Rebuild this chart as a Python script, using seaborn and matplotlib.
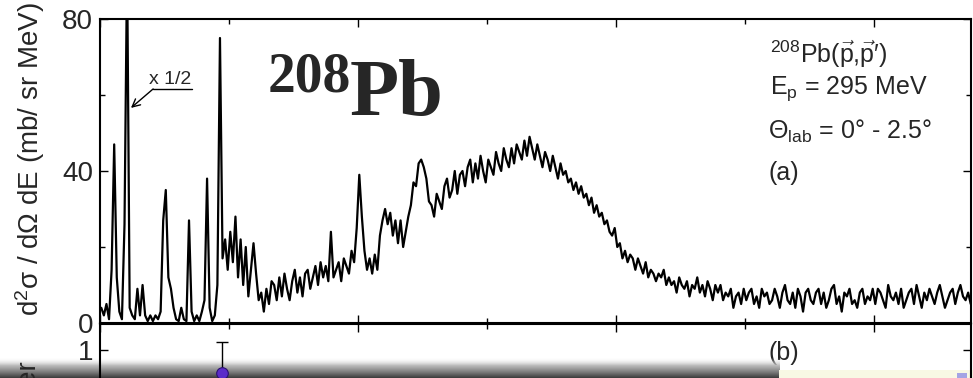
import numpy as np
import matplotlib
matplotlib.use("Agg")
import matplotlib.pyplot as plt
from matplotlib.ticker import MultipleLocator, FixedLocator
from matplotlib.patches import Rectangle
import seaborn as sns

# Excitation-energy binning of the (p,p') spectrum, MeV
E_START = 5.0
BIN_WIDTH = 0.05

# d2sigma/dOmega dE (mb/sr MeV), one list per MeV of excitation energy
spec_05 = [4, 2, 5, 1, 14, 47, 12, 3, 1, 26, 95, 4, 2, 1, 9, 2, 10, 2, 0.5, 2]
spec_06 = [0.5, 2, 1, 3, 27, 35, 12, 9, 4, 1, 0.5, 4, 1, 0.5, 27, 3, 0.5, 2, 0.5, 3]
spec_07 = [6, 38, 4, 0.5, 2, 10, 75, 17, 22, 14, 24, 16, 28, 12, 22, 10, 20, 7, 14, 21]
spec_08 = [13, 6, 8, 3, 9, 5, 11, 10, 6, 12, 7, 13, 9, 6, 11, 14, 8, 12, 7, 13]
spec_09 = [14, 9, 12, 15, 10, 16, 12, 15, 11, 24, 12, 14, 16, 11, 17, 15, 13, 19, 16, 25]
spec_10 = [39, 28, 19, 14, 17, 13, 18, 14, 23, 27, 30, 26, 29, 23, 27, 21, 27, 20, 24, 28]
spec_11 = [31, 37, 36, 42, 43, 41, 38, 32, 31, 28, 34, 32, 30, 36, 38, 33, 35, 40, 34, 39]
spec_12 = [40, 36, 41, 43, 37, 42, 38, 44, 40, 37, 43, 41, 39, 45, 42, 40, 46, 43, 41, 46]
spec_13 = [42, 47, 45, 43, 48, 44, 49, 46, 43, 47, 44, 41, 45, 43, 40, 44, 41, 38, 42, 39]
spec_14 = [40, 37, 38, 35, 37, 34, 36, 33, 34, 31, 33, 29, 31, 28, 29, 26, 27, 24, 23, 25]
spec_15 = [20, 21, 17, 19, 16, 18, 17, 14, 17, 15, 13, 16, 12, 14, 13, 11, 13, 12, 14, 10]
spec_16 = [12, 10, 11, 8, 12, 10, 9, 11, 7, 10, 9, 12, 8, 10, 7, 11, 9, 6, 10, 8]
spec_17 = [10, 6, 8, 7, 9, 4, 7, 8, 5, 9, 6, 8, 9, 5, 7, 4, 9, 7, 8, 5]
spec_18 = [6, 9, 7, 4, 8, 10, 6, 5, 8, 4, 9, 7, 3, 8, 9, 6, 5, 8, 9, 5]
spec_19 = [8, 4, 6, 9, 10, 5, 7, 3, 8, 7, 9, 5, 6, 4, 8, 9, 5, 7, 6, 9]
spec_20 = [5, 9, 8, 6, 4, 10, 7, 6, 8, 5, 9, 4, 6, 8, 9, 5, 10, 7, 4, 8]
spec_21 = [6, 9, 7, 5, 8, 10, 7, 4, 6, 8, 9, 5, 8, 10, 7, 6, 8, 5]

# Panel (b): total spin transfer
sf_energy = [7.37]
sf_value = [0.82]
sf_error = [0.24]

sns.set_theme(style="ticks")
plt.rcParams["font.family"] = ["Liberation Sans", "DejaVu Sans"]
plt.rcParams["mathtext.fontset"] = "custom"
plt.rcParams["mathtext.rm"] = "Liberation Sans"
plt.rcParams["mathtext.it"] = "Liberation Sans:italic"
plt.rcParams["mathtext.bf"] = "Liberation Sans:bold"

W, H = 973, 378
fig = plt.figure(figsize=(W / 100, H / 100), dpi=100)
fig.patch.set_facecolor("white")


def fx(px):
    return px / W


def fy(py):
    return 1 - py / H


ax = fig.add_axes([fx(100), fy(323), (971 - 100) / W, (323 - 19) / H])
axb = fig.add_axes([fx(100), fy(479), (971 - 100) / W, (479 - 324) / H],
                   zorder=12)
axb.patch.set_alpha(0)

counts = np.concatenate([spec_05, spec_06, spec_07, spec_08, spec_09, spec_10,
                         spec_11, spec_12, spec_13, spec_14, spec_15, spec_16,
                         spec_17, spec_18, spec_19, spec_20, spec_21])
energy = E_START + BIN_WIDTH * (np.arange(len(counts)) + 0.5)

sns.lineplot(x=energy, y=counts, ax=ax, color="black", lw=1.6,
             estimator=None, sort=False)

for a in (ax, axb):
    a.set_xlim(5.0, 21.88)
    a.xaxis.set_major_locator(MultipleLocator(5))
    a.xaxis.set_minor_locator(MultipleLocator(2.5))
    a.tick_params(which="both", direction="in", top=True, right=True,
                  bottom=True, left=True, width=1.0, color="black",
                  labelsize=20, pad=5, labelbottom=False)
    a.tick_params(which="major", length=6)
    a.tick_params(which="minor", length=3.8)
    for s in a.spines.values():
        s.set_linewidth(1.5)
        s.set_color("black")
    a.set_xlabel("")
    a.set_ylabel("")

ax.set_ylim(0, 80)
ax.set_yticks([0, 40, 80])
ax.yaxis.set_minor_locator(MultipleLocator(20))

# off-scale peak marker
ax.text(6.35, 62.9, "x 1/2", ha="center", va="baseline", fontsize=14)
ax.plot([6.03, 6.78], [61.6, 61.6], color="black", lw=1.0)
ax.annotate("", xy=(5.60, 56.6), xytext=(6.03, 61.6),
            arrowprops=dict(arrowstyle="->", lw=1.0, color="black",
                            shrinkA=0, shrinkB=0, mutation_scale=14))

# panel (b)
axb.set_ylim(0, 1.2)
axb.yaxis.set_major_locator(FixedLocator([1]))
axb.errorbar(sf_energy, sf_value, yerr=sf_error, fmt="none", ecolor="black",
             elinewidth=1.0, capsize=4, capthick=1.0)
sns.scatterplot(x=sf_energy, y=sf_value, ax=axb, s=70, color="#5b2bc9",
                edgecolor="#2a1070", linewidth=0.8, zorder=3)

# labels
fig.text(fx(30), fy(159), "d$^2$σ / dΩ dE (mb/ sr MeV)", rotation=90,
         ha="center", va="center", fontsize=20)
fig.text(fx(29), fy(361), "Total spin transfer", rotation=90,
         ha="center", va="top", fontsize=20, zorder=13)

fig.text(fx(268), fy(92), "208", family="Liberation Serif", weight="bold",
         fontsize=40, va="baseline", ha="left")
fig.text(fx(350), fy(115), "Pb", family="Liberation Serif", weight="bold",
         fontsize=58, va="baseline", ha="left")

fig.text(fx(770), fy(63), r"$^{208}$Pb($\vec{\mathrm{p}}$,$\vec{\mathrm{p}}$′)",
         fontsize=18, va="baseline", ha="left")
fig.text(fx(770), fy(94), r"E$_{\mathrm{p}}$ = 295 MeV",
         fontsize=18, va="baseline", ha="left")
fig.text(fx(768), fy(139), r"Θ$_{\mathrm{lab}}$ = 0° - 2.5°",
         fontsize=18, va="baseline", ha="left")
fig.text(fx(769), fy(180), "(a)", fontsize=18, va="baseline", ha="left")
fig.text(fx(768), fy(360), "(b)", fontsize=18, va="baseline", ha="left")

# player bar along the bottom edge
band = fig.add_axes([0, 0, fx(780), (378 - 358) / H], zorder=10)
t = np.linspace(0, 1, 80)
shade = 0.92 - 0.76 * t ** 1.3
alpha = np.clip(t * 2.5, 0, 0.92)
img = np.stack([shade, shade, shade, alpha], axis=-1)[:, None, :]
band.imshow(img, aspect="auto", extent=[0, 1, 0, 1], origin="upper",
            interpolation="bilinear")
band.set_xlim(0, 1)
band.set_ylim(0, 1)
band.axis("off")

fig.patches.append(Rectangle((fx(779), 0), 1 - fx(779), 8 / H,
                             transform=fig.transFigure, facecolor="#f8f8e4",
                             edgecolor="none", zorder=11))
fig.patches.append(Rectangle((fx(957), 0), 10 / W, 5 / H,
                             transform=fig.transFigure, facecolor="#a4a4e4",
                             edgecolor="none", zorder=12))

fig.savefig("out.png", dpi=100)
